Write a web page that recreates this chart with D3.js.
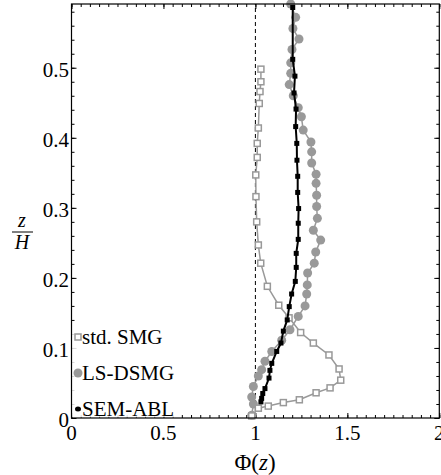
<!DOCTYPE html>
<html><head><meta charset="utf-8">
<script src="https://cdn.jsdelivr.net/npm/d3@7"></script>
<style>body{margin:0;background:#fff}svg{display:block}</style>
</head><body>
<script>
// ---- data ----
const seriesNames = ["std. SMG", "LS-DSMG", "SEM-ABL"];
const stdPhi = [0.980,1.016,1.070,1.152,1.239,1.330,1.406,1.464,1.455,1.400,1.315,1.246,1.183,1.127,1.065,1.029,1.016,1.007,1.003,1.002,1.010,1.010,1.016,1.021,1.025,1.030,1.030];
const stdZ   = [0.003,0.014,0.017,0.022,0.026,0.036,0.043,0.054,0.070,0.090,0.107,0.122,0.143,0.161,0.188,0.221,0.247,0.280,0.316,0.347,0.372,0.392,0.414,0.449,0.466,0.480,0.498];
const lsPhi = [0.980,0.989,0.980,0.989,1.016,1.034,1.052,1.089,1.143,1.188,1.233,1.270,1.279,1.282,1.284,1.320,1.328,1.355,1.315,1.337,1.333,1.333,1.330,1.330,1.306,1.306,1.302,1.260,1.250,1.233,1.206,1.184,1.192,1.192,1.199,1.237,1.204,1.219,1.192];
const lsZ   = [0.004,0.020,0.030,0.045,0.060,0.069,0.081,0.095,0.111,0.126,0.145,0.160,0.177,0.190,0.207,0.221,0.237,0.254,0.268,0.285,0.302,0.318,0.335,0.348,0.364,0.380,0.394,0.411,0.430,0.443,0.460,0.476,0.492,0.507,0.526,0.541,0.556,0.572,0.591];
const semPhi = [1.030,1.034,1.040,1.052,1.074,1.079,1.089,1.116,1.139,1.152,1.173,1.184,1.197,1.217,1.222,1.222,1.233,1.233,1.235,1.230,1.230,1.226,1.225,1.219,1.221,1.210,1.215,1.203,1.203];
const semZ   = [0.023,0.028,0.035,0.042,0.057,0.068,0.078,0.095,0.107,0.124,0.140,0.159,0.177,0.195,0.215,0.235,0.255,0.278,0.299,0.322,0.345,0.368,0.392,0.416,0.441,0.464,0.488,0.512,0.586];
const xTicks = [0, 0.5, 1, 1.5, 2];
const xTickLabels = ["0", "0.5", "1", "1.5", "2"];
const yTicks = [0, 0.1, 0.2, 0.3, 0.4, 0.5];
const yTickLabels = ["0", "0.1", "0.2", "0.3", "0.4", "0.5"];

const W = 441, H = 475;
const font = "'Liberation Serif', 'DejaVu Serif', serif";
const gray = "#999999";
const svg = d3.select("body").append("svg").attr("width", W).attr("height", H);

const x = d3.scaleLinear().domain([0, 2]).range([71.5, 439.3]);
const y = d3.scaleLinear().domain([0, 0.591]).range([418, 4]);
const [x0, x1] = x.range(), [y0, y1] = y.range();

// ticks (inward, all four sides)
const xMinor = d3.range(0, 2.0001, 0.05);
const yMinor = d3.range(0, 0.5901, 0.02);
function tickAxis(axisGen, tr, major, minor, len, mlen) {
  const g = svg.append("g").attr("transform", tr);
  g.call(axisGen.tickValues(minor).tickSize(mlen).tickFormat(""));
  g.select(".domain").remove();
  const g2 = svg.append("g").attr("transform", tr);
  g2.call(axisGen.tickValues(major).tickSize(len).tickFormat(""));
  g2.select(".domain").remove();
  svg.selectAll("g .tick line").attr("stroke", "#000").attr("stroke-width", 1);
}
tickAxis(d3.axisTop(x), `translate(0,${y0})`, xTicks, xMinor, 5, 3);
tickAxis(d3.axisBottom(x), `translate(0,${y1})`, xTicks, xMinor, 5, 3);
tickAxis(d3.axisRight(y), `translate(${x0},0)`, yTicks, yMinor, 5, 3);
tickAxis(d3.axisLeft(y), `translate(${x1},0)`, yTicks, yMinor, 5, 3);

// tick labels
svg.append("g").selectAll("text").data(xTicks).join("text")
  .attr("x", d => x(d)).attr("y", 440).attr("text-anchor", "middle")
  .attr("font-family", font).attr("font-size", 21).text((d, i) => xTickLabels[i]);
svg.append("g").selectAll("text").data(yTicks).join("text")
  .attr("x", 69).attr("y", d => y(d) + 9).attr("text-anchor", "end")
  .attr("font-family", font).attr("font-size", 21).text((d, i) => yTickLabels[i]);

// dashed reference line at Phi = 1
svg.append("line").attr("x1", x(1)).attr("x2", x(1)).attr("y1", y0).attr("y2", y1)
  .attr("stroke", "#000").attr("stroke-width", 1).attr("stroke-dasharray", "4,3");

const line = d3.line().x(d => x(d[0])).y(d => y(d[1]));
const stdData = stdPhi.map((v, i) => [v, stdZ[i]]);
const lsData = lsPhi.map((v, i) => [v, lsZ[i]]);
const semData = semPhi.map((v, i) => [v, semZ[i]]);

const plot = svg.append("g");
// LS-DSMG
plot.append("path").datum(lsData).attr("d", line).attr("fill", "none").attr("stroke", gray).attr("stroke-width", 1.5);
plot.append("g").selectAll("circle").data(lsData).join("circle")
  .attr("cx", d => x(d[0])).attr("cy", d => y(d[1])).attr("r", 4.5).attr("fill", gray);
// std SMG
plot.append("path").datum(stdData).attr("d", line).attr("fill", "none").attr("stroke", gray).attr("stroke-width", 1.5);
plot.append("g").selectAll("rect").data(stdData).join("rect")
  .attr("x", d => x(d[0]) - 3).attr("y", d => y(d[1]) - 3).attr("width", 6).attr("height", 6)
  .attr("fill", "#fff").attr("stroke", gray).attr("stroke-width", 1.5);
// SEM-ABL
plot.append("path").datum(semData).attr("d", line).attr("fill", "none").attr("stroke", "#000").attr("stroke-width", 2);
plot.append("g").selectAll("rect").data(semData).join("rect")
  .attr("x", d => x(d[0]) - 2.5).attr("y", d => y(d[1]) - 2.5).attr("width", 5).attr("height", 5).attr("fill", "#000");

// legend (semi-opaque white background hides the ticks beneath it)
const leg = svg.append("g");
leg.append("rect").attr("x", x0 + 0.5).attr("y", 325).attr("width", 108).attr("height", y0 - 325 - 0.5)
  .attr("fill", "#fff").attr("fill-opacity", 0.85);
const legY = [337, 373, 409];
leg.append("rect").attr("x", 75).attr("y", legY[0] - 3).attr("width", 6).attr("height", 6)
  .attr("fill", "#fff").attr("stroke", gray).attr("stroke-width", 1.5);
leg.append("circle").attr("cx", 78).attr("cy", legY[1]).attr("r", 4.5).attr("fill", gray);
leg.append("ellipse").attr("cx", 78).attr("cy", legY[2]).attr("rx", 3).attr("ry", 2.5).attr("fill", "#000");
leg.selectAll("text").data(seriesNames).join("text")
  .attr("x", 82).attr("y", (d, i) => legY[i] + 7).attr("font-family", font).attr("font-size", 21).text(d => d);

// frame
svg.append("rect").attr("x", x0).attr("y", y1).attr("width", x1 - x0).attr("height", y0 - y1)
  .attr("fill", "none").attr("stroke", "#000").attr("stroke-width", 1.2);

// axis titles
const xt = svg.append("text").attr("x", 255).attr("y", 470).attr("text-anchor", "middle")
  .attr("font-family", font).attr("font-size", 23);
xt.append("tspan").text("Φ(");
xt.append("tspan").attr("font-style", "italic").text("z");
xt.append("tspan").text(")");

svg.append("text").attr("x", 22).attr("y", 227).attr("text-anchor", "middle")
  .attr("font-family", font).attr("font-size", 20).attr("font-style", "italic").text("z");
svg.append("line").attr("x1", 12).attr("x2", 33).attr("y1", 232).attr("y2", 232).attr("stroke", "#000").attr("stroke-width", 1);
svg.append("text").attr("x", 22).attr("y", 249).attr("text-anchor", "middle")
  .attr("font-family", font).attr("font-size", 20).attr("font-style", "italic").text("H");
</script>
</body></html>
